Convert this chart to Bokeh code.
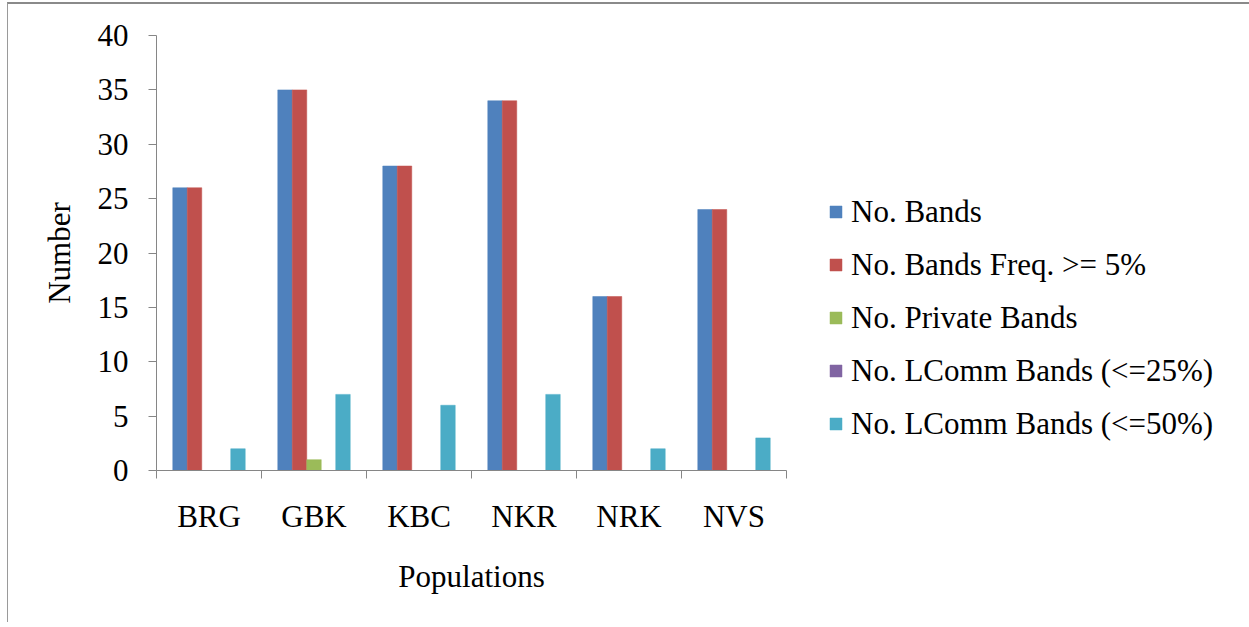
from bokeh.plotting import figure
from bokeh.models import Range1d, FixedTicker, Legend, LegendItem, ColumnDataSource
from bokeh.embed import file_html
from bokeh.resources import INLINE

populations = ["BRG", "GBK", "KBC", "NKR", "NRK", "NVS"]
series_names = ["No. Bands", "No. Bands Freq. >= 5%", "No. Private Bands",
                "No. LComm Bands (<=25%)", "No. LComm Bands (<=50%)"]
no_bands = [26, 35, 28, 34, 16, 24]
no_bands_freq5 = [26, 35, 28, 34, 16, 24]
no_private = [0, 1, 0, 0, 0, 0]
no_lcomm25 = [0, 0, 0, 0, 0, 0]
no_lcomm50 = [2, 7, 6, 7, 2, 3]
y_ticks = [0, 5, 10, 15, 20, 25, 30, 35, 40]

series_values = [no_bands, no_bands_freq5, no_private, no_lcomm25, no_lcomm50]
colors = ["#4F81BD", "#C0504D", "#9BBB59", "#8064A2", "#4BACC6"]

FONT = "Liberation Serif"
FS = "31px"

p = figure(frame_width=630, frame_height=435, output_backend="svg", toolbar_location=None,
           x_range=Range1d(0, len(populations)), y_range=Range1d(0, 40),
           min_border_left=148, min_border_top=31, min_border_bottom=152,
           min_border_right=10)
p.styles = {"border-top": "2px solid #8a8a8a", "border-left": "1px solid #9a9a9a",
            "border-right": "2px solid #b0b0b0", "margin-left": "7px", "margin-top": "2px"}
p.outline_line_color = None
p.xgrid.visible = False
p.ygrid.visible = False
p.background_fill_color = "white"
p.border_fill_color = "white"

bw = 0.138
centers = [i + 0.5 for i in range(len(populations))]
renderers = []
for k, (vals, col) in enumerate(zip(series_values, colors)):
    off = (k - 2) * bw
    src = ColumnDataSource(dict(x=[c + off for c in centers], top=vals))
    r = p.vbar(x="x", top="top", bottom=0, width=bw, source=src,
               fill_color=col, line_color=col, line_width=0.5)
    renderers.append(r)

axis_col = "#868686"
# X axis
xa = p.xaxis[0]
xa.ticker = FixedTicker(ticks=centers, minor_ticks=list(range(len(populations) + 1)))
xa.major_label_overrides = {c: name for c, name in zip(centers, populations)}
xa.major_tick_out = 0
xa.major_tick_in = 0
xa.minor_tick_out = 8
xa.minor_tick_in = 0
xa.minor_tick_line_color = axis_col
xa.axis_line_color = axis_col
xa.major_label_text_font = FONT
xa.major_label_text_font_size = FS
xa.major_label_text_color = "black"
xa.major_label_standoff = 20
xa.axis_label = "Populations"
xa.axis_label_text_font = FONT
xa.axis_label_text_font_size = FS
xa.axis_label_text_font_style = "normal"
xa.axis_label_text_color = "black"
xa.axis_label_standoff = 22

# Y axis
ya = p.yaxis[0]
ya.ticker = FixedTicker(ticks=y_ticks, minor_ticks=[])
ya.major_tick_out = 8
ya.major_tick_in = 0
ya.major_tick_line_color = axis_col
ya.axis_line_color = axis_col
ya.major_label_text_font = FONT
ya.major_label_text_font_size = FS
ya.major_label_text_color = "black"
ya.major_label_standoff = 20
ya.axis_label = "Number"
ya.axis_label_text_font = FONT
ya.axis_label_text_font_size = FS
ya.axis_label_text_font_style = "normal"
ya.axis_label_text_color = "black"
ya.axis_label_standoff = 18

legend = Legend(items=[LegendItem(label=n, renderers=[r]) for n, r in zip(series_names, renderers)],
                location=(42, 20), border_line_color=None, background_fill_alpha=0,
                padding=0, margin=0, spacing=0, glyph_width=15, glyph_height=15,
                label_height=53, label_standoff=8,
                label_text_font=FONT, label_text_font_size=FS, label_text_color="black")
p.add_layout(legend, "right")

open("out.html", "w").write(file_html(p, INLINE))
